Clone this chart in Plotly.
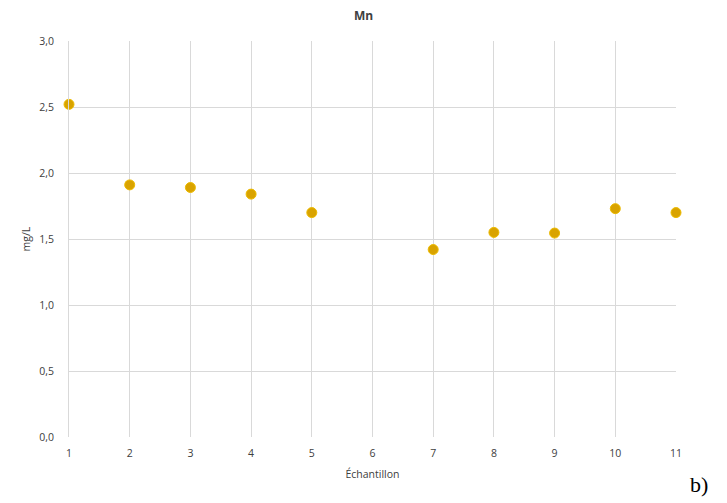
import plotly.graph_objects as go

samples = [1, 2, 3, 4, 5, 7, 8, 9, 10, 11]
mn_values = [2.52, 1.91, 1.89, 1.84, 1.70, 1.42, 1.55, 1.545, 1.73, 1.70]
x_ticks = list(range(1, 12))
y_ticks = [0, 0.5, 1.0, 1.5, 2.0, 2.5, 3.0]

fig = go.Figure()
fig.add_trace(go.Scatter(
    x=samples, y=mn_values, mode="markers",
    marker=dict(color="#D9A300", size=10, line=dict(color="#EDBB00", width=1)),
    cliponaxis=False, showlegend=False,
))

fig.update_layout(
    width=711, height=494,
    margin=dict(l=61, r=43, t=33, b=65),
    paper_bgcolor="white", plot_bgcolor="white",
    separators=", ",
    title=dict(text="<b>Mn</b>", x=0.5, xanchor="center", y=0.993, yanchor="top",
               font=dict(family="Open Sans", size=12, color="#404040")),
    font=dict(family="Open Sans", color="#404040"),
)
fig.update_xaxes(
    range=[1, 11], tickvals=x_ticks, ticktext=[str(v) for v in x_ticks],
    showgrid=True, gridcolor="#D9D9D9", gridwidth=1, zeroline=False,
    showline=False, ticks="", tickfont=dict(size=10.5, color="#404040"),
    ticklabelstandoff=8,
    title=dict(text="Échantillon", font=dict(size=10.5, color="#404040"), standoff=12),
)
fig.update_yaxes(
    range=[0, 3], tickvals=y_ticks, tickformat=".1f",
    showgrid=True, gridcolor="#D9D9D9", gridwidth=1, zeroline=False,
    showline=True, linecolor="#D9D9D9", mirror=False, ticks="",
    tickfont=dict(size=10.5, color="#404040"), ticklabelstandoff=12,
    title=dict(text="mg/L", font=dict(size=10.5, color="#404040"), standoff=6),
)
fig.add_annotation(text="b)", xref="paper", yref="paper", x=1.0, y=0,
                   xanchor="left", yanchor="middle", showarrow=False,
                   xshift=12, yshift=-47,
                   font=dict(family="Liberation Serif", size=22, color="black"))

fig.write_html("out.html")
